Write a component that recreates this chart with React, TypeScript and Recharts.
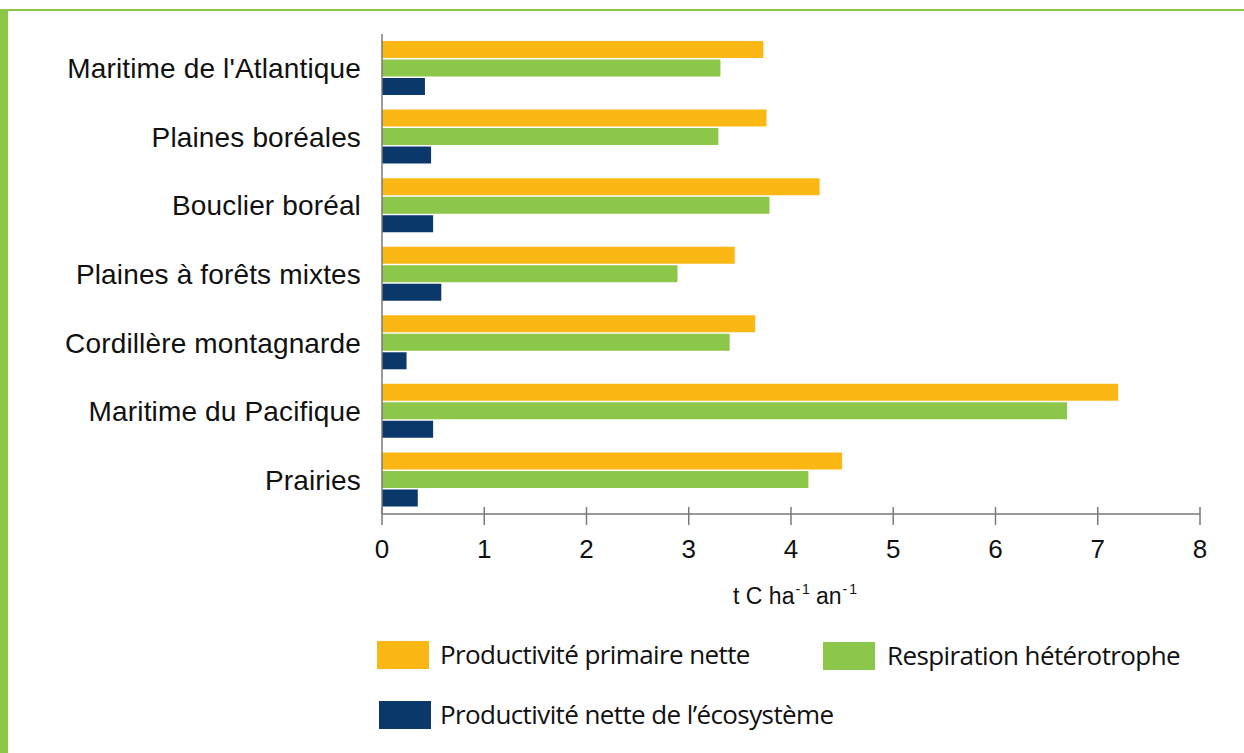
import { Bar, BarChart, Legend, XAxis, YAxis } from "recharts";

const categories = [
  "Maritime de l'Atlantique",
  "Plaines boréales",
  "Bouclier boréal",
  "Plaines à forêts mixtes",
  "Cordillère montagnarde",
  "Maritime du Pacifique",
  "Prairies",
];
const ppn = [3.73, 3.76, 4.28, 3.45, 3.65, 7.2, 4.5];
const rh = [3.31, 3.29, 3.79, 2.89, 3.4, 6.7, 4.17];
const pne = [0.42, 0.48, 0.5, 0.58, 0.24, 0.5, 0.35];
const xTicks = [0, 1, 2, 3, 4, 5, 6, 7, 8];

const series = [
  { key: "ppn", name: "Productivité primaire nette", color: "#fbb814" },
  { key: "rh", name: "Respiration hétérotrophe", color: "#8dc749" },
  { key: "pne", name: "Productivité nette de l’écosystème", color: "#0b386b" },
];

const data = categories.map((name, i) => ({ name, ppn: ppn[i], rh: rh[i], pne: pne[i] }));

const AXIS = "#7a7a7a";
const FONT = "'Liberation Sans', Arial, Helvetica, sans-serif";

function XTick(props: any) {
  const { x, y, payload } = props;
  return (
    <g>
      <line x1={x} x2={x} y1={y - 7} y2={y + 11} stroke={AXIS} strokeWidth={1.5} />
      <text x={x} y={y + 44} textAnchor="middle" fontSize={26} fill="#111" fontFamily={FONT}>
        {payload.value}
      </text>
    </g>
  );
}

function YTick(props: any) {
  const { x, y, payload } = props;
  return (
    <text
      x={x - 21}
      y={y + 10}
      textAnchor="end"
      fontSize={28}
      letterSpacing={0.15}
      fill="#111"
      fontFamily={FONT}
    >
      {payload.value}
    </text>
  );
}

function LegendBox() {
  const pos = [
    { left: 377, top: 641, text: 440 },
    { left: 823, top: 642, text: 887 },
    { left: 379, top: 701, text: 440 },
  ];
  return (
    <div>
      {series.map((s, i) => (
        <div key={s.key}>
          <div
            style={{
              position: "absolute",
              left: pos[i].left,
              top: pos[i].top,
              width: 52,
              height: 28,
              background: s.color,
            }}
          />
          <div
            style={{
              position: "absolute",
              left: pos[i].text,
              top: pos[i].top - 4,
              fontFamily: "'Open Sans', sans-serif",
              fontSize: 26,
              letterSpacing: -0.6,
              color: "#111",
              whiteSpace: "nowrap",
              lineHeight: "34px",
            }}
          >
            {s.name}
          </div>
        </div>
      ))}
    </div>
  );
}

export default function App() {
  return (
    <div style={{ position: "absolute", left: 0, top: 0, width: 1244, height: 753, background: "#fff" }}>
      <div style={{ position: "absolute", left: 0, top: 9, width: 8, height: 744, background: "#8dc749" }} />
      <div style={{ position: "absolute", left: 0, top: 9, width: 1244, height: 2, background: "#8dc749" }} />
      <BarChart
        width={1244}
        height={753}
        data={data}
        layout="vertical"
        margin={{ top: 34, right: 44, bottom: 199, left: 0 }}
        barSize={17}
        barGap={1.5}
      >
        <XAxis
          type="number"
          domain={[0, 8]}
          ticks={xTicks}
          interval={0}
          height={40}
          axisLine={{ stroke: AXIS, strokeWidth: 1.5 }}
          tickLine={false}
          tickSize={0}
          tickMargin={0}
          tick={<XTick />}
          label={({ viewBox }: any) => (
            <text
              x={viewBox.x + viewBox.width / 2 + 5}
              y={604}
              textAnchor="middle"
              fontSize={23}
              fill="#111"
              fontFamily={FONT}
            >
              <tspan>t C ha</tspan>
              <tspan fontSize={14} letterSpacing={2} dx={1} dy={-10}>-1</tspan>
              <tspan dy={10} dx={4}>an</tspan>
              <tspan fontSize={14} letterSpacing={2} dx={1} dy={-10}>-1</tspan>
            </text>
          )}
        />
        <YAxis
          type="category"
          dataKey="name"
          width={382}
          interval={0}
          axisLine={{ stroke: AXIS, strokeWidth: 1.5 }}
          tickLine={false}
          tickSize={0}
          tickMargin={0}
          tick={<YTick />}
        />
        {series.map((s) => (
          <Bar key={s.key} dataKey={s.key} name={s.name} fill={s.color} isAnimationActive={false} />
        ))}
        <Legend content={() => null} />
      </BarChart>
      <LegendBox />
    </div>
  );
}
